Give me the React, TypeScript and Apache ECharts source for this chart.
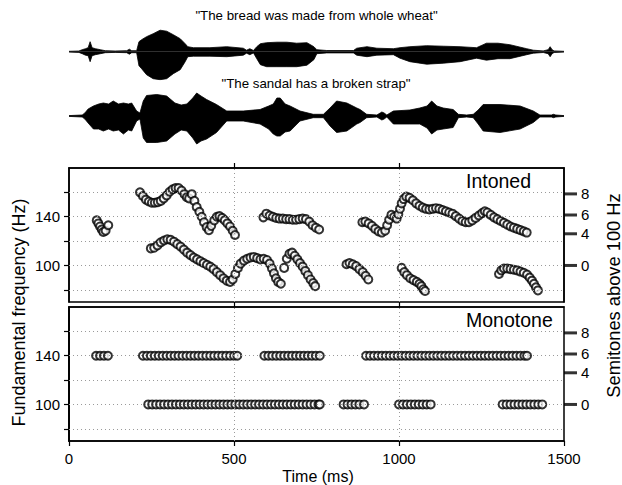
import React, { useEffect, useRef } from "react";
import * as echarts from "echarts";

const FONT = "'Liberation Sans', Arial, Helvetica, sans-serif";

// axes
const xTicks = [0, 500, 1000, 1500];
const innerXTicks = [500, 1000];
const hzTicks = [80, 100, 120, 140, 160];
const hzLabels = [100, 140];
const gridHz = [80, 100, 120, 140, 160];
const semitoneTicks = [0, 4, 6, 8];

// captions
const caption1 = '"The bread was made from whole wheat"';
const caption2 = '"The sandal has a broken strap"';

// waveform envelopes: [ms, upper amplitude, lower amplitude]
const wave1 = [
  [0, 0.4, 0.4], [30, 0.7, 0.7], [40, 2, 2], [50, 3, 3.5], [58, 4, 4], [64, 10, 10], [70, 4, 4],
  [80, 3, 3], [95, 2, 2], [110, 1, 1], [140, 0.7, 0.7], [175, 1, 1], [183, 2.5, 2.5], [190, 1, 1],
  [205, 1, 1], [212, 10, 14], [220, 12, 17], [235, 15, 23], [255, 18, 27], [276, 21.5, 28],
  [296, 20.5, 27], [316, 17, 22], [337, 13, 18], [352, 8, 10], [360, 5, 5], [377, 4, 4.5],
  [427, 4, 4.5], [478, 5, 5], [528, 3.5, 3.5], [538, 1.5, 1.5], [548, 3, 3], [559, 1.2, 1.2],
  [569, 5, 7], [580, 8, 13], [599, 9, 15], [630, 9.5, 15], [660, 9.5, 15], [690, 8.5, 15],
  [721, 9, 13.5], [742, 5, 8], [751, 2, 2], [781, 1.2, 1.2], [862, 1.2, 1.2], [872, 3.5, 3.5],
  [903, 5, 5], [933, 3.5, 3.5], [983, 3, 3], [1003, 4, 6.5], [1033, 5, 10], [1084, 6, 12.5],
  [1134, 5.5, 11.5], [1185, 5, 10], [1235, 4, 6.5], [1265, 8.5, 8.5], [1300, 8.5, 7],
  [1336, 7, 7], [1387, 3, 3], [1407, 1.5, 1.5], [1437, 0.8, 0.8], [1452, 2, 2], [1458, 5, 5],
  [1464, 2, 2], [1470, 0.8, 0.8], [1500, 0.4, 0.4],
];
const wave2 = [
  [0, 0.4, 0.4], [40, 1, 1], [48, 3, 3], [58, 7, 7], [74, 10, 13], [90, 12, 13], [104, 13, 15],
  [120, 12, 13], [134, 15, 15], [150, 12, 14], [165, 13, 18], [180, 12, 14], [190, 13, 15],
  [205, 5, 5], [215, 3, 3], [225, 15, 22], [235, 20.5, 26.5], [266, 21.5, 26.5], [296, 20, 25],
  [321, 13, 18], [340, 11, 14], [357, 12, 15], [375, 18, 22], [387, 23, 28], [400, 20, 25],
  [417, 16.5, 23], [447, 11.5, 16.5], [478, 5, 5], [528, 5, 5], [579, 6.5, 8], [605, 10, 13],
  [619, 12, 18], [630, 18, 20], [640, 18, 20], [655, 12, 16], [670, 10, 15], [700, 5, 5],
  [740, 1.7, 1.7], [771, 1.7, 1.7], [791, 8, 10], [811, 15, 16.5], [842, 13, 15], [872, 8, 8],
  [882, 6.5, 6.5], [902, 1.7, 1.7], [933, 1, 1], [943, 3, 3], [948, 4, 4], [955, 3, 3],
  [963, 1, 1], [983, 5, 8], [1033, 6, 8], [1063, 8, 8], [1085, 10, 12], [1099, 15, 18],
  [1115, 10, 14], [1134, 8, 13], [1164, 6.5, 11.5], [1180, 1.7, 1.7], [1205, 1, 1],
  [1225, 1.7, 1.7], [1240, 6, 8], [1255, 11.5, 15], [1306, 11.5, 16.5], [1367, 10, 13],
  [1407, 5, 6.5], [1427, 1, 1], [1462, 1, 1], [1468, 1.7, 1.7], [1475, 1, 1], [1500, 0.4, 0.4],
];

// Intoned F0 contours: [ms, Hz]
const intC1 = [[84, 137], [89, 134.5], [94, 132], [99, 129.5], [104, 127.5], [111, 128.5], [119, 133]];
const intC2 = [
  [215, 160], [224, 157], [233, 154], [242, 152.5], [251, 151.5], [260, 151.5], [269, 152],
  [278, 153], [287, 155], [296, 157.5], [305, 160.5], [314, 162.5], [323, 163.5], [332, 163.5],
  [341, 161.5], [350, 158.5], [357, 156], [364, 155], [372, 158.5], [380, 153], [387, 148],
  [395, 144], [402, 140], [409, 135.5], [417, 131.5], [424, 129], [431, 132.5], [440, 137],
  [448, 140], [456, 140.5], [464, 139], [472, 137], [480, 134.5], [488, 132], [496, 128.5], [503, 125],
];
const intC3 = [
  [248, 114], [258, 114.5], [268, 116.5], [278, 119], [288, 120.5], [298, 121.5], [308, 121],
  [318, 119.5], [328, 117.5], [338, 115.5], [348, 113], [358, 110.5], [368, 108.5], [378, 106.5],
  [388, 105], [398, 103.5], [408, 102], [418, 100.5], [428, 99], [438, 97], [448, 94.5], [458, 92],
  [468, 89.5], [478, 87.5], [488, 86.5], [496, 88.5], [504, 93], [512, 98], [520, 101.5],
  [530, 104], [540, 105.5], [550, 106.5], [560, 107], [570, 106], [580, 105], [590, 105.5],
  [600, 104.5], [608, 101.5], [615, 97.5], [621, 93.5], [627, 89.5], [634, 86.5], [642, 85],
  [652, 98], [660, 105.5], [668, 109.5], [676, 110.5], [684, 108], [692, 105], [700, 102],
  [708, 99], [716, 95.5], [724, 92], [732, 88.5], [740, 85.5], [746, 83],
];
const intC4 = [
  [589, 139.5], [598, 142.5], [608, 141], [618, 140], [628, 139], [638, 138.5], [648, 138.5],
  [658, 138], [668, 138], [678, 137.5], [688, 137.5], [698, 138], [708, 138.5], [718, 138],
  [728, 136], [738, 133], [748, 131], [758, 129.5],
];
const intC5 = [[841, 101], [850, 102], [860, 101], [870, 99.5], [880, 97], [890, 94.5], [899, 91.5], [907, 88.5]];
const intC6 = [
  [889, 135.5], [898, 136], [908, 134.5], [918, 132.5], [928, 130], [938, 128], [948, 127],
  [958, 128.5], [964, 133], [970, 137.5], [977, 141.5], [985, 140], [993, 138.5], [998, 142],
  [1003, 146.5], [1008, 151], [1014, 154.5], [1022, 156.5], [1032, 155.5], [1042, 153.5],
  [1052, 151], [1062, 149], [1072, 147.5], [1082, 146.5], [1092, 146], [1102, 146.5],
  [1112, 147], [1122, 146.5], [1132, 145.5], [1142, 144.5], [1152, 143.5], [1162, 142.5],
  [1172, 140.5], [1182, 138.5], [1192, 136.5], [1202, 135.5], [1212, 135.5], [1222, 137],
  [1232, 139], [1242, 141], [1252, 143], [1260, 144.5], [1268, 143.5], [1278, 141.5],
  [1288, 139.5], [1298, 138], [1308, 136.5], [1318, 135], [1328, 133.5], [1338, 132],
  [1348, 131], [1358, 130], [1368, 129], [1378, 128], [1387, 127],
];
const intC7 = [[1008, 98], [1016, 94.5], [1024, 92], [1034, 89.5], [1044, 88], [1054, 86.5], [1062, 85], [1068, 83], [1074, 80.5], [1079, 79]];
const intC8 = [
  [1303, 93], [1310, 96], [1318, 97.5], [1328, 97.5], [1338, 97], [1348, 96.5], [1358, 96],
  [1368, 95], [1378, 94], [1388, 92.5], [1396, 90], [1403, 87.5], [1409, 85], [1415, 82], [1421, 79.5],
];

// Monotone F0 frames (ms) at 140 Hz and 100 Hz
const monoHigh = 140;
const monoLow = 100;
const mono140Ms = [
  82, 94, 106, 118,
  224, 236, 248, 260, 272, 284, 296, 308, 320, 332, 344, 356, 368, 380, 392, 404, 416, 428, 440, 452, 464, 476, 488, 500, 510,
  592, 604, 616, 628, 640, 652, 664, 676, 688, 700, 712, 724, 736, 748, 760,
  900, 912, 924, 936, 948, 960, 972, 984, 996, 1008, 1020, 1032, 1044, 1056, 1068, 1080, 1092, 1104,
  1116, 1128, 1140, 1152, 1164, 1176, 1188, 1200, 1212, 1224, 1236, 1248, 1260, 1272, 1284, 1296,
  1308, 1320, 1332, 1344, 1356, 1368, 1380, 1388,
];
const mono100Ms = [
  240, 252, 264, 276, 288, 300, 312, 324, 336, 348, 360, 372, 384, 396, 408, 420, 432, 444, 456,
  468, 480, 492, 504, 516, 528, 540, 552, 564, 576, 588, 600, 612, 624, 636, 648, 660, 672, 684,
  696, 708, 720, 732, 744, 756, 760,
  832, 844, 856, 868, 880, 894,
  1000, 1012, 1024, 1036, 1048, 1060, 1072, 1084, 1096,
  1314, 1326, 1338, 1350, 1362, 1374, 1386, 1398, 1410, 1422, 1434,
];

const semiToHz = (s: number) => 100 * Math.pow(2, s / 12);
const semiHz = semitoneTicks.map(semiToHz);

const GL = 69;
const GW = 495;

function panelAxesY(gridIndex: number) {
  return [
    {
      gridIndex, type: "value", min: 70, max: 180, position: "left",
      axisLine: { show: true, lineStyle: { color: "#000", width: 1.5 } },
      axisTick: { show: true, customValues: hzTicks, length: 5, lineStyle: { color: "#000", width: 1.2 } },
      axisLabel: { show: true, customValues: hzLabels, fontSize: 15, color: "#000", margin: 9, fontFamily: FONT },
      splitLine: { show: false },
    },
    {
      gridIndex, type: "value", min: 70, max: 180, position: "right",
      axisLine: { show: true, lineStyle: { color: "#000", width: 1.5 } },
      axisTick: { show: false },
      axisLabel: {
        show: true, customValues: semiHz, fontSize: 15, color: "#000", margin: 17, fontFamily: FONT,
        formatter: (v: number) => String(Math.round(12 * Math.log2(v / 100))),
      },
      splitLine: { show: false },
    },
  ];
}

function innerTopAxis(gridIndex: number) {
  return {
    gridIndex, type: "value", min: 0, max: 1500, position: "top",
    axisLine: { show: true, lineStyle: { color: "#000", width: 1.5 } },
    axisTick: { show: true, customValues: innerXTicks, length: 5, lineStyle: { color: "#000", width: 1.2 } },
    axisLabel: { show: false },
    splitLine: { show: false },
  };
}

function gridLineSeries(xAxisIndex: number, yAxisIndex: number) {
  return {
    type: "scatter", xAxisIndex, yAxisIndex, data: [], silent: true, z: 1,
    markLine: {
      silent: true, symbol: ["none", "none"], label: { show: false }, animation: false,
      lineStyle: { type: [1, 3], color: "#9a9a9a", width: 1 },
      data: [...gridHz.map((v) => ({ yAxis: v })), ...innerXTicks.map((v) => ({ xAxis: v }))],
    },
  };
}

// bold semitone ticks on the right-hand axes: rect marks anchored at the axis through the scale
function semitoneTickMarks(xAxisIndex: number, yAxisIndex: number) {
  return {
    type: "scatter", xAxisIndex, yAxisIndex, clip: false, z: 10, silent: true,
    symbol: "rect", symbolSize: [13, 3], symbolOffset: [6.5, 0],
    itemStyle: { color: "#000", borderWidth: 0 },
    data: semiHz.map((h) => [1500, h]),
  };
}

const dotStyle = {
  symbol: "circle", symbolSize: 8,
  itemStyle: { color: "#fff", borderColor: "#000", borderWidth: 2 },
};

function dots(data: number[][], xAxisIndex: number, yAxisIndex: number) {
  return { type: "scatter", xAxisIndex, yAxisIndex, data, z: 3, silent: true, ...dotStyle };
}

function waveSeries(w: number[][], idx: number) {
  const base = {
    type: "line", xAxisIndex: idx, yAxisIndex: idx, symbol: "none", silent: true,
    lineStyle: { color: "#000", width: 0.8 },
    areaStyle: { color: "#000", opacity: 1 },
  };
  return [
    { ...base, data: w.map((d) => [d[0], d[1]]) },
    { ...base, data: w.map((d) => [d[0], -d[2]]) },
  ];
}

function txt(x: number, y: number, text: string, size: number, align: string, rotation = 0) {
  return {
    type: "text", x, y, rotation,
    style: {
      text, font: `${size}px ${FONT}`, fill: "#000",
      align, verticalAlign: "middle", textAlign: align, textVerticalAlign: "middle",
    },
  };
}

export default function App() {
  const ref = useRef<HTMLDivElement>(null);
  useEffect(() => {
    if (!ref.current) return;
    const chart = echarts.init(ref.current, null, { renderer: "svg" });
    const option: any = {
      animation: false,
      backgroundColor: "#fff",
      textStyle: { fontFamily: FONT },
      grid: [
        { left: GL, width: GW, top: 23.2, height: 57, show: false },
        { left: GL, width: GW, top: 87.5, height: 57, show: false },
        { left: GL, width: GW, top: 168, height: 134, show: true, borderColor: "#000", borderWidth: 1.5 },
        { left: GL, width: GW, top: 307, height: 134, show: true, borderColor: "#000", borderWidth: 1.5 },
      ],
      xAxis: [
        { gridIndex: 0, type: "value", min: 0, max: 1500, show: false },
        { gridIndex: 1, type: "value", min: 0, max: 1500, show: false },
        innerTopAxis(2),
        innerTopAxis(3),
        {
          gridIndex: 3, type: "value", min: 0, max: 1500, position: "bottom",
          axisLine: { show: true, lineStyle: { color: "#000", width: 1.5 } },
          axisTick: { show: true, customValues: xTicks, length: 5, lineStyle: { color: "#000", width: 1.2 } },
          axisLabel: {
            show: true, customValues: xTicks, fontSize: 15, color: "#000", margin: 10, fontFamily: FONT,
            formatter: (v: number) => String(v),
          },
          splitLine: { show: false },
        },
      ],
      yAxis: [
        { gridIndex: 0, type: "value", min: -28.5, max: 28.5, show: false },
        { gridIndex: 1, type: "value", min: -28.5, max: 28.5, show: false },
        ...panelAxesY(2),
        ...panelAxesY(3),
      ],
      series: [
        ...waveSeries(wave1, 0),
        ...waveSeries(wave2, 1),
        gridLineSeries(2, 2),
        gridLineSeries(4, 4),
        dots(intC1, 2, 2), dots(intC2, 2, 2), dots(intC3, 2, 2), dots(intC4, 2, 2),
        dots(intC5, 2, 2), dots(intC6, 2, 2), dots(intC7, 2, 2), dots(intC8, 2, 2),
        dots(mono140Ms.map((t) => [t, monoHigh]), 4, 4),
        dots(mono100Ms.map((t) => [t, monoLow]), 4, 4),
        semitoneTickMarks(2, 3),
        semitoneTickMarks(4, 5),
      ],
      graphic: [
        txt(316.5, 15, caption1, 13.3, "center"),
        txt(316, 83.5, caption2, 13.3, "center"),
        txt(466, 181, "Intoned", 19.5, "left"),
        txt(466, 320, "Monotone", 19.5, "left"),
        txt(19, 312.5, "Fundamental frequency (Hz)", 18, "center", Math.PI / 2),
        txt(613, 295.5, "Semitones above 100 Hz", 18.3, "center", Math.PI / 2),
        txt(318, 476.5, "Time (ms)", 16, "center"),
      ],
    };
    chart.setOption(option);
    return () => chart.dispose();
  }, []);
  return <div ref={ref} style={{ position: "fixed", left: 0, top: 0, width: 622, height: 485 }} />;
}
